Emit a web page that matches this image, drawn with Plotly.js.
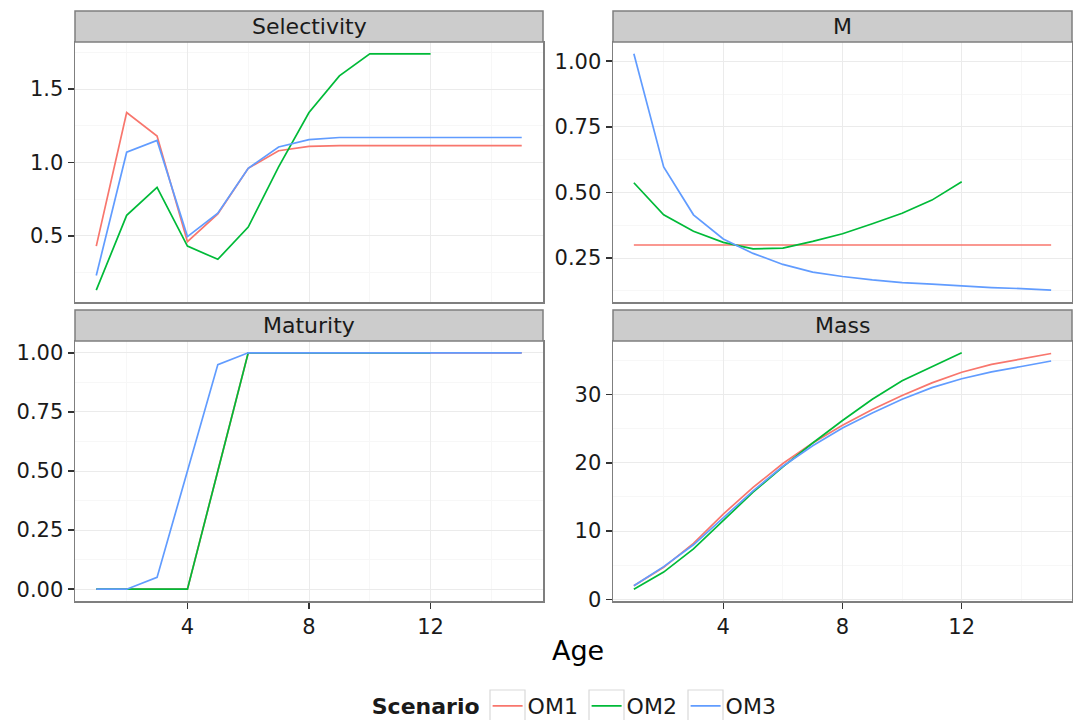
<!DOCTYPE html>
<html>
<head>
<meta charset="utf-8">
<script src="https://cdn.plot.ly/plotly-3.0.1.min.js"></script>
<style>
  html, body { margin: 0; padding: 0; background: #ffffff; }
  #chart { width: 1073px; height: 720px; }
</style>
</head>
<body>
<div id="chart"></div>
<script>
// Ages and scenario names
const ages = [1, 2, 3, 4, 5, 6, 7, 8, 9, 10, 11, 12, 13, 14, 15];
const agesOM2 = [1, 2, 3, 4, 5, 6, 7, 8, 9, 10, 11, 12];
const scenarios = ["OM1", "OM2", "OM3"];
const panelNames = ["Selectivity", "M", "Maturity", "Mass"];

// Selectivity at age
const selOM1 = [0.43, 1.34, 1.18, 0.46, 0.65, 0.96, 1.08, 1.11, 1.115, 1.115, 1.115, 1.115, 1.115, 1.115, 1.115];
const selOM2 = [0.13, 0.64, 0.83, 0.43, 0.34, 0.56, 0.97, 1.34, 1.59, 1.74, 1.74, 1.74];
const selOM3 = [0.23, 1.07, 1.15, 0.495, 0.655, 0.96, 1.105, 1.155, 1.17, 1.17, 1.17, 1.17, 1.17, 1.17, 1.17];

// Natural mortality at age
const mOM1 = [0.3, 0.3, 0.3, 0.3, 0.3, 0.3, 0.3, 0.3, 0.3, 0.3, 0.3, 0.3, 0.3, 0.3, 0.3];
const mOM2 = [0.537, 0.415, 0.352, 0.31, 0.285, 0.288, 0.314, 0.343, 0.381, 0.421, 0.471, 0.541];
const mOM3 = [1.028, 0.597, 0.415, 0.323, 0.268, 0.226, 0.197, 0.18, 0.167, 0.157, 0.151, 0.144, 0.138, 0.134, 0.128];

// Maturity at age
const matOM1 = [0, 0, 0, 0, 0.5, 1, 1, 1, 1, 1, 1, 1, 1, 1, 1];
const matOM2 = [0, 0, 0, 0, 0.5, 1, 1, 1, 1, 1, 1, 1];
const matOM3 = [0, 0, 0.05, 0.5, 0.95, 1, 1, 1, 1, 1, 1, 1, 1, 1, 1];

// Mass at age
const massOM1 = [2.0, 4.7, 8.2, 12.5, 16.4, 19.9, 22.9, 25.5, 27.8, 29.85, 31.7, 33.25, 34.4, 35.2, 36.0];
const massOM2 = [1.5, 4.0, 7.4, 11.5, 15.7, 19.4, 22.9, 26.2, 29.3, 32.0, 34.1, 36.1];
const massOM3 = [2.0, 4.8, 8.0, 12.0, 15.9, 19.5, 22.5, 25.1, 27.3, 29.3, 31.0, 32.3, 33.3, 34.1, 34.9];

const colours = ["#F8766D", "#00BA38", "#619CFF"];
const W = 1073, H = 720;
const FONT = "DejaVu Sans, Liberation Sans, Arial, sans-serif";

// panel boxes in pixels: [left, right, top, bottom]
const boxes = [
  [75, 543, 42, 302],
  [613, 1072, 42, 302],
  [75, 543, 341, 601],
  [613, 1072, 341, 601]
];
const stripH = 31;

// legend key frames in pixels: left edge of each, shared top
const keyLefts = [490, 589, 688];
const keySize = 35, keyTop = 690;

const panelData = [
  [selOM1, selOM2, selOM3],
  [mOM1, mOM2, mOM3],
  [matOM1, matOM2, matOM3],
  [massOM1, massOM2, massOM3]
];
const tickFormats = [".1f", ".2f", ".2f", "d"];
const yDticks = [0.5, 0.25, 0.25, 10];

function expandRange(series) {
  const all = [].concat(...series);
  const lo = Math.min(...all), hi = Math.max(...all);
  const pad = (hi - lo) * 0.05;
  return [lo - pad, hi + pad];
}

const traces = [];
const layout = {
  width: W, height: H,
  margin: { l: 0, r: 0, t: 0, b: 0, autoexpand: false },
  paper_bgcolor: "#ffffff",
  plot_bgcolor: "#ffffff",
  font: { family: FONT, size: 21, color: "#1a1a1a" },
  showlegend: true,
  legend: {
    orientation: "h",
    x: 0.538, xanchor: "center",
    y: 1 - 706 / H, yanchor: "middle",
    bgcolor: "rgba(0,0,0,0)",
    font: { family: FONT, size: 22, color: "#1a1a1a" },
    title: { text: "<b>Scenario</b>", side: "left", font: { family: FONT, size: 22, color: "#1a1a1a" } },
    itemwidth: 30,
    entrywidth: 54,
    entrywidthmode: "pixels",
    tracegroupgap: 0
  },
  shapes: [],
  annotations: []
};

panelData.forEach((series, p) => {
  const n = p + 1;
  const xa = n === 1 ? "x" : "x" + n;
  const ya = n === 1 ? "y" : "y" + n;
  const xKey = n === 1 ? "xaxis" : "xaxis" + n;
  const yKey = n === 1 ? "yaxis" : "yaxis" + n;
  const [l, r, t, b] = boxes[p];
  const bottomRow = p >= 2;

  series.forEach((vals, s) => {
    traces.push({
      type: "scatter", mode: "lines",
      x: s === 1 ? agesOM2 : ages,
      y: vals,
      xaxis: xa, yaxis: ya,
      name: scenarios[s],
      legendgroup: scenarios[s],
      showlegend: p === 0,
      line: { color: colours[s], width: 1.7 },
      hoverinfo: "x+y+name"
    });
  });

  layout[xKey] = {
    domain: [l / W, r / W],
    anchor: ya,
    range: [0.3, 15.7],
    tick0: 0, dtick: 4,
    showticklabels: bottomRow,
    ticks: bottomRow ? "outside" : "",
    ticklen: 6, tickwidth: 1.5, tickcolor: "#333333",
    tickfont: { family: FONT, size: 21, color: "#1a1a1a" },
    showgrid: true, gridcolor: "#ebebeb", gridwidth: 1,
    minor: { tick0: 0, dtick: 2, showgrid: true, gridcolor: "#f7f7f7", gridwidth: 1 },
    showline: true, linecolor: "#7f7f7f", linewidth: 1.5, mirror: true,
    zeroline: false, automargin: false, fixedrange: true
  };
  layout[yKey] = {
    domain: [1 - b / H, 1 - t / H],
    anchor: xa,
    range: expandRange(series),
    tick0: 0, dtick: yDticks[p],
    tickformat: tickFormats[p],
    ticks: "outside",
    ticklen: 6, tickwidth: 1.5, tickcolor: "#333333",
    tickfont: { family: FONT, size: 21, color: "#1a1a1a" },
    showgrid: true, gridcolor: "#ebebeb", gridwidth: 1,
    minor: { tick0: 0, dtick: yDticks[p] / 2, showgrid: true, gridcolor: "#f7f7f7", gridwidth: 1 },
    showline: true, linecolor: "#7f7f7f", linewidth: 1.5, mirror: true,
    zeroline: false, automargin: false, fixedrange: true
  };

  // facet strip
  layout.shapes.push({
    type: "rect", xref: "paper", yref: "paper",
    x0: l / W, x1: r / W,
    y0: 1 - t / H, y1: 1 - (t - stripH) / H,
    fillcolor: "#cccccc",
    line: { color: "#7f7f7f", width: 1.5 }
  });
  layout.annotations.push({
    xref: "paper", yref: "paper",
    x: (l + r) / 2 / W, y: 1 - (t - stripH / 2) / H,
    xanchor: "center", yanchor: "middle",
    text: panelNames[p], showarrow: false,
    font: { family: FONT, size: 22, color: "#1a1a1a" }
  });
});

// framed legend keys
keyLefts.forEach((kx) => {
  layout.shapes.push({
    type: "rect", xref: "paper", yref: "paper",
    x0: kx / W, x1: (kx + keySize) / W,
    y0: 1 - (keyTop + keySize) / H, y1: 1 - keyTop / H,
    fillcolor: "rgba(0,0,0,0)",
    line: { color: "#d9d9d9", width: 1.2 }
  });
});

// shared x-axis title
layout.annotations.push({
  xref: "paper", yref: "paper",
  x: 578 / W, y: 1 - 650 / H,
  xanchor: "center", yanchor: "middle",
  text: "Age", showarrow: false,
  font: { family: FONT, size: 27, color: "#000000" }
});

Plotly.newPlot("chart", traces, layout, { displayModeBar: false, staticPlot: true });
</script>
</body>
</html>
